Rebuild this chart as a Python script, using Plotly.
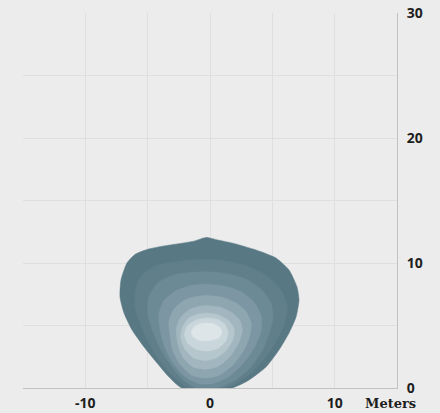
import plotly.graph_objects as go

# Contour bands (outer -> inner), in meters
band_x = [
    [-0.3, 0.6, 1.76, 3.69, 5.29, 6.34, 6.98, 7.14, 6.9, 6.34, 5.53, 4.49, 3.13, 1.76, -2.25, -3.29, -4.25, -5.29, -6.25, -6.9, -7.22, -7.14, -6.66, -6.0, -5.0, -3.8, -2.5, -1.3, -0.3],
    [-0.3, 1.6, 3.4, 4.8, 5.8, 6.2, 6.0, 5.4, 4.5, 3.3, 2.0, 1.2, -1.7, -2.8, -3.9, -4.8, -5.5, -6.0, -6.0, -5.5, -4.3, -2.4, -0.3],
    [-0.3, 1.4, 2.9, 4.1, 4.9, 5.05, 4.75, 4.2, 3.2, 2.0, 0.6, -1.1, -2.2, -3.2, -4.0, -4.6, -5.0, -4.9, -4.2, -2.9, -1.5, -0.3],
    [-0.3, 1.2, 2.5, 3.5, 4.1, 4.1, 3.6, 2.7, 1.5, 0.2, -0.9, -2.0, -2.9, -3.6, -4.0, -4.1, -3.7, -2.7, -1.5, -0.3],
    [-0.3, 1.0, 2.1, 2.9, 3.3, 3.2, 2.7, 1.8, 0.7, -0.4, -1.5, -2.4, -3.0, -3.2, -3.3, -2.9, -2.1, -1.2, -0.3],
    [-0.3, 0.9, 1.8, 2.4, 2.6, 2.3, 1.6, 0.6, -0.4, -1.4, -2.2, -2.6, -2.7, -2.4, -1.7, -1.0, -0.3],
    [-0.3, 0.7, 1.5, 1.95, 1.85, 1.3, 0.5, -0.4, -1.3, -2.0, -2.35, -2.2, -1.7, -1.0, -0.3],
    [-0.3, 0.6, 1.2, 1.45, 1.3, 0.7, -0.2, -1.1, -1.8, -2.05, -1.8, -1.1, -0.3],
    [-0.3, 0.4, 0.85, 0.95, 0.7, 0.0, -0.8, -1.35, -1.5, -1.25, -0.8, -0.3],
]
band_y = [
    [12.05, 11.85, 11.6, 11.04, 10.4, 9.44, 8.08, 7.04, 5.68, 4.4, 3.04, 1.68, 0.64, 0.0, 0.0, 0.88, 2.0, 3.28, 4.64, 6.0, 7.28, 8.64, 10.0, 10.7, 11.1, 11.35, 11.55, 11.75, 12.05],
    [10.3, 10.1, 9.6, 8.8, 7.7, 6.4, 5.2, 3.9, 2.5, 1.2, 0.3, 0.0, 0.0, 0.8, 2.0, 3.4, 4.9, 6.4, 7.8, 9.0, 9.8, 10.15, 10.3],
    [9.3, 9.15, 8.7, 7.9, 6.8, 5.6, 4.4, 3.0, 1.6, 0.6, 0.0, 0.0, 0.7, 1.9, 3.2, 4.6, 6.0, 7.3, 8.4, 9.05, 9.25, 9.3],
    [8.3, 8.15, 7.7, 6.9, 5.8, 4.6, 3.3, 2.0, 0.9, 0.35, 0.35, 0.9, 1.9, 3.2, 4.6, 5.9, 7.0, 7.8, 8.2, 8.3],
    [7.4, 7.25, 6.8, 6.1, 5.2, 4.2, 3.0, 1.8, 1.0, 0.8, 1.05, 1.9, 3.0, 4.2, 5.3, 6.3, 7.0, 7.3, 7.4],
    [6.6, 6.45, 6.0, 5.4, 4.6, 3.6, 2.5, 1.7, 1.5, 1.7, 2.5, 3.6, 4.7, 5.6, 6.25, 6.5, 6.6],
    [6.0, 5.85, 5.4, 4.7, 3.9, 3.0, 2.4, 2.2, 2.4, 3.1, 4.0, 4.9, 5.6, 5.9, 6.0],
    [5.6, 5.5, 5.1, 4.5, 3.8, 3.2, 2.95, 3.1, 3.6, 4.3, 5.0, 5.45, 5.6],
    [5.2, 5.1, 4.8, 4.4, 4.0, 3.8, 3.8, 4.1, 4.5, 4.9, 5.15, 5.2],
]
band_colors = ["#587884", "#617f8b", "#6c8a96", "#7c97a3", "#8ea6b0", "#a1b6bf", "#b5c6cd", "#c9d6db", "#dde5e8"]

x_tickvals = [-15, -10, -5, 0, 5, 10, 15]
x_ticktext = ["", "-10", "", "0", "", "10", ""]
y_tickvals = [0, 5, 10, 15, 20, 25, 30]
y_ticktext = ["0", "", "10", "", "20", "", "30"]

fig = go.Figure()
for bx, by, col in zip(band_x, band_y, band_colors):
    fig.add_trace(go.Scatter(
        x=bx, y=by, mode="lines", fill="toself", fillcolor=col,
        line=dict(color=col, width=0.5, shape="spline", smoothing=0.6),
        hoverinfo="skip", showlegend=False,
    ))

num_font = dict(family="Open Sans", size=14, color="#1e1e1e", weight="bold")
word_font = dict(family="DejaVu Serif", size=13, color="#1e1e1e", weight="bold")

fig.update_layout(
    width=440, height=413, autosize=False,
    margin=dict(l=23, r=43, t=13, b=25),
    paper_bgcolor="#ececec", plot_bgcolor="#ececec",
    showlegend=False,
    xaxis=dict(
        range=[-15, 15], tickvals=x_tickvals, ticktext=x_ticktext,
        showgrid=True, gridcolor="#dfdfdf", gridwidth=1, automargin=False,
        zeroline=False, showline=True, linecolor="#c2c2c2", linewidth=1,
        ticks="", tickfont=num_font, ticklabelstandoff=2, fixedrange=True,
    ),
    yaxis=dict(
        range=[0, 30], tickvals=y_tickvals, ticktext=y_ticktext, side="right",
        showgrid=True, gridcolor="#dfdfdf", gridwidth=1, automargin=False,
        zeroline=False, showline=True, linecolor="#c2c2c2", linewidth=1,
        ticks="", tickfont=num_font, ticklabelstandoff=6, fixedrange=True,
    ),
    annotations=[dict(
        text="Meters", xref="paper", yref="paper", x=0.982, y=0,
        xanchor="center", yanchor="top", yshift=-6, showarrow=False, font=word_font,
    )],
)

fig.write_html(
    "out.html",
    config={"displayModeBar": False},
    post_script="document.body.style.margin='0';document.body.style.overflow='hidden';",
)
